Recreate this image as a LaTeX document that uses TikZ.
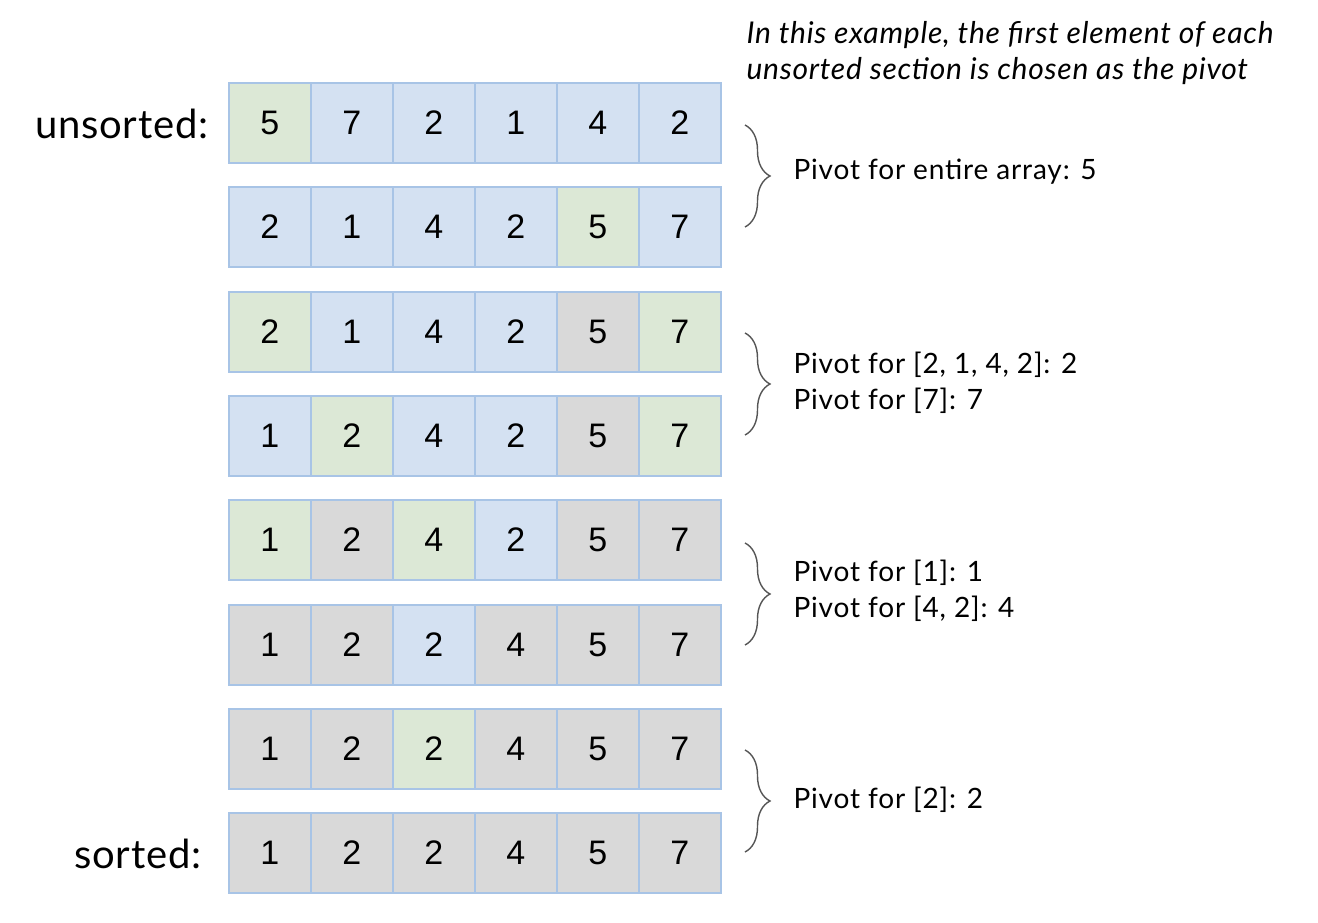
\documentclass[tikz,border=0pt]{standalone}
\usepackage{fontspec}
\setmainfont{Lato}
\newfontfamily\widefont[LetterSpace=3]{Lato}
\newfontfamily\labfont[LetterSpace=2]{Lato}
\newfontfamily\notefont[LetterSpace=2.5]{Lato}
\newfontfamily\cellfont{Liberation Sans}
\usetikzlibrary{decorations.pathreplacing}
\definecolor{cb}{HTML}{D4E1F2}
\definecolor{cg}{HTML}{DCE8D6}
\definecolor{cr}{HTML}{D9D9D9}
\definecolor{cbd}{HTML}{A8C4E6}
\definecolor{bracegray}{HTML}{555555}
\tikzset{
  cell/.style={draw=cbd, line width=1.6pt, minimum width=82pt, minimum height=80pt,
    inner sep=0pt, anchor=north west, font=\cellfont\fontsize{34}{34}\selectfont},
  bracestyle/.style={draw=bracegray, line width=1.4pt,
    decorate, decoration={brace, amplitude=25pt, aspect=0.5}},
  pivtext/.style={anchor=west, align=left, font=\widefont\fontsize{28}{36}\selectfont},
  sidelabel/.style={anchor=east, font=\labfont\fontsize{40}{40}\selectfont},
}
\begin{document}
\begin{tikzpicture}[x=1pt,y=-1pt]
\useasboundingbox (0,0) rectangle (1318,922);
\foreach \v/\c [count=\i] in {5/g,7/b,2/b,1/b,4/b,2/b}
  \node[cell, fill=c\c] (r1c\i) at ({228+(\i-1)*82},82) {\v};
\foreach \v/\c [count=\i] in {2/b,1/b,4/b,2/b,5/g,7/b}
  \node[cell, fill=c\c] (r2c\i) at ({228+(\i-1)*82},186) {\v};
\foreach \v/\c [count=\i] in {2/g,1/b,4/b,2/b,5/r,7/g}
  \node[cell, fill=c\c] (r3c\i) at ({228+(\i-1)*82},291) {\v};
\foreach \v/\c [count=\i] in {1/b,2/g,4/b,2/b,5/r,7/g}
  \node[cell, fill=c\c] (r4c\i) at ({228+(\i-1)*82},395) {\v};
\foreach \v/\c [count=\i] in {1/g,2/r,4/g,2/b,5/r,7/r}
  \node[cell, fill=c\c] (r5c\i) at ({228+(\i-1)*82},499) {\v};
\foreach \v/\c [count=\i] in {1/r,2/r,2/b,4/r,5/r,7/r}
  \node[cell, fill=c\c] (r6c\i) at ({228+(\i-1)*82},604) {\v};
\foreach \v/\c [count=\i] in {1/r,2/r,2/g,4/r,5/r,7/r}
  \node[cell, fill=c\c] (r7c\i) at ({228+(\i-1)*82},708) {\v};
\foreach \v/\c [count=\i] in {1/r,2/r,2/r,4/r,5/r,7/r}
  \node[cell, fill=c\c] (r8c\i) at ({228+(\i-1)*82},812) {\v};

\node[sidelabel] (lunsorted) at (212,124) {unsorted:};
\node[sidelabel] (lsorted) at (205,854) {sorted:};

\node[anchor=north west, align=left, font=\notefont\itshape\fontsize{30}{36}\selectfont] (note) at (743,18)
  {In this example, the first element of each\\unsorted section is chosen as the pivot};

\coordinate (b1t) at (745,125); \coordinate (b1b) at (745,227);
\coordinate (b2t) at (745,333); \coordinate (b2b) at (745,435);
\coordinate (b3t) at (745,543); \coordinate (b3b) at (745,645);
\coordinate (b4t) at (745,750); \coordinate (b4b) at (745,852);
\draw[bracestyle] (b1t) -- (b1b);
\draw[bracestyle] (b2t) -- (b2b);
\draw[bracestyle] (b3t) -- (b3b);
\draw[bracestyle] (b4t) -- (b4b);

\node[pivtext] (p1) at (790,172) {Pivot for entire array: 5};
\node[pivtext] (p2) at (790,383) {Pivot for [2, 1, 4, 2]: 2\\Pivot for [7]: 7};
\node[pivtext] (p3) at (790,591) {Pivot for [1]: 1\\Pivot for [4, 2]: 4};
\node[pivtext] (p4) at (790,800) {Pivot for [2]: 2};
\end{tikzpicture}
\end{document}
